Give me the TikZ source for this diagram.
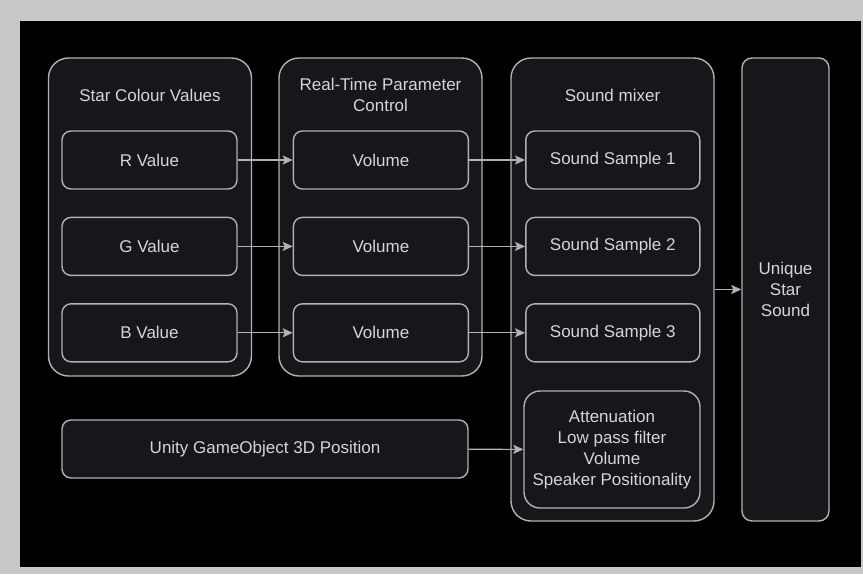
\documentclass[tikz,border=0pt]{standalone}
\usepackage{fontspec}
\setmainfont{Liberation Sans}
\usetikzlibrary{positioning, arrows.meta}

\definecolor{frame}{HTML}{C8C8C8}
\definecolor{panel}{HTML}{17161B}
\definecolor{edge}{HTML}{B2B2B6}
\definecolor{label}{HTML}{D6D6D6}

\begin{document}
\begin{tikzpicture}[
        % one unit = one pixel, y grows downwards
        x=1pt, y=-1pt,
        node distance=27pt and 55pt,
        every node/.style={font=\fontsize{17}{21}\selectfont, text=label, align=center},
        group/.style={draw=edge, fill=panel, line width=1.4pt, rounded corners=20pt,
                      minimum width=203pt, minimum height=318pt},
        item/.style={draw=edge, fill=panel, line width=1.4pt, rounded corners=9pt,
                     minimum width=175pt, minimum height=58pt},
        arrow/.style={draw=edge, line width=1.2pt,
                      -{Stealth[length=10pt, width=9pt, inset=2pt]}}
    ]

    % --- Frame ---
    \fill[frame] (0,0) rectangle (863,574);
    \fill[black] (20,21) rectangle (861,567);
    \useasboundingbox (0,0) rectangle (863,574);

    % --- Containers ---
    \node[group] (SCV) at (150,217) {};
    \node[group] (RTPC) at (380.5,217) {};
    \node[group, minimum height=463pt] (MIX) at (612.5,289.5) {};
    \node[draw=edge, fill=panel, line width=1.4pt, rounded corners=10pt,
          minimum width=87pt, minimum height=463pt] (USS) at (785.5,289.5)
          {Unique\\Star\\Sound};

    % --- Titles ---
    \node (tSCV) at (150,95) {Star Colour Values};
    \node (tRTPC) at (380.5,95) {Real-Time Parameter\\Control};
    \node (tMIX) at (612.5,95) {Sound mixer};

    % --- Colour values ---
    \node[item] (R) at (149.5,160) {R Value};
    \node[item, below=of R] (G) {G Value};
    \node[item, below=of G] (B) {B Value};

    % --- Parameter control ---
    \node[item, right=of R] (V1) {Volume};
    \node[item, right=of G] (V2) {Volume};
    \node[item, right=of B] (V3) {Volume};

    % --- Mixer samples ---
    \node[item, minimum width=174pt, right=56pt of V1] (S1) {Sound Sample 1};
    \node[item, minimum width=174pt, right=56pt of V2] (S2) {Sound Sample 2};
    \node[item, minimum width=174pt, right=56pt of V3] (S3) {Sound Sample 3};
    \node[item, minimum width=176pt, minimum height=117pt, rounded corners=16pt]
        (ATT) at (612,449.5)
        {Attenuation\\Low pass filter\\Volume\\Speaker Positionality};

    % --- Position input ---
    \node[item, minimum width=406pt] (POS) at (265,449) {Unity GameObject 3D Position};

    % --- Arrows ---
    \draw[arrow] (R) -- (V1);
    \draw[arrow] (G) -- (V2);
    \draw[arrow] (B) -- (V3);

    \draw[arrow] (V1) -- (S1);
    \draw[arrow] (V2) -- (S2);
    \draw[arrow] (V3) -- (S3);

    \draw[arrow] (POS) -- (ATT);
    \draw[arrow] (MIX) -- (USS);

\end{tikzpicture}
\end{document}
